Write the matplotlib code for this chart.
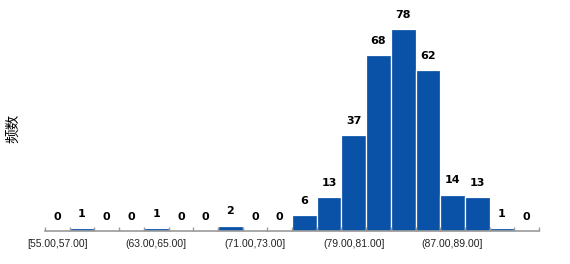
import matplotlib.pyplot as plt
import numpy as np

# 分组区间与频数
bin_lefts = [55, 57, 59, 61, 63, 65, 67, 69, 71, 73, 75, 77, 79, 81, 83, 85, 87, 89, 91, 93]
counts = [0, 1, 0, 0, 1, 0, 0, 2, 0, 0, 6, 13, 37, 68, 78, 62, 14, 13, 1, 0]
tick_idx = [0, 4, 8, 12, 16]
tick_labels = ['[55.00,57.00]', '(63.00,65.00]', '(71.00,73.00]', '(79.00,81.00]', '(87.00,89.00]']

fig = plt.figure(figsize=(5.7, 2.64), dpi=100)
ax = fig.add_axes([45 / 570, 33 / 264, 494 / 570, 231 / 264])

x = np.arange(len(counts))
ax.bar(x + 0.5, counts, width=1.0, color='#0A52A8', edgecolor='white', linewidth=0.9)

# 柱顶数值
for xi, c in zip(x, counts):
    ax.text(xi + 0.5, c + 3.6, str(c), ha='center', va='bottom',
            fontsize=8, fontweight='bold', color='black', family='DejaVu Sans')

ax.set_xlim(0, len(counts))
ax.set_ylim(0, 89.2)

for s in ['top', 'right', 'left']:
    ax.spines[s].set_visible(False)
ax.spines['bottom'].set_color('#999999')
ax.spines['bottom'].set_linewidth(1.2)

ax.set_yticks([])
ax.set_xticks(np.arange(len(counts) + 1), minor=True)
ax.set_xticks([i + 0.5 for i in tick_idx])
ax.set_xticklabels(tick_labels, fontsize=7.5, color='#222222', family='Liberation Sans')
ax.tick_params(axis='x', which='major', length=0, pad=6)
ax.tick_params(axis='x', which='minor', direction='in', length=3, color='#999999', width=1)

fig.text(13 / 570, 1 - 128 / 264, '频数', rotation=90, ha='center', va='center',
         fontsize=10.5, family=['Noto Sans CJK SC', 'DejaVu Sans'])

fig.savefig('out.png', dpi=100)
